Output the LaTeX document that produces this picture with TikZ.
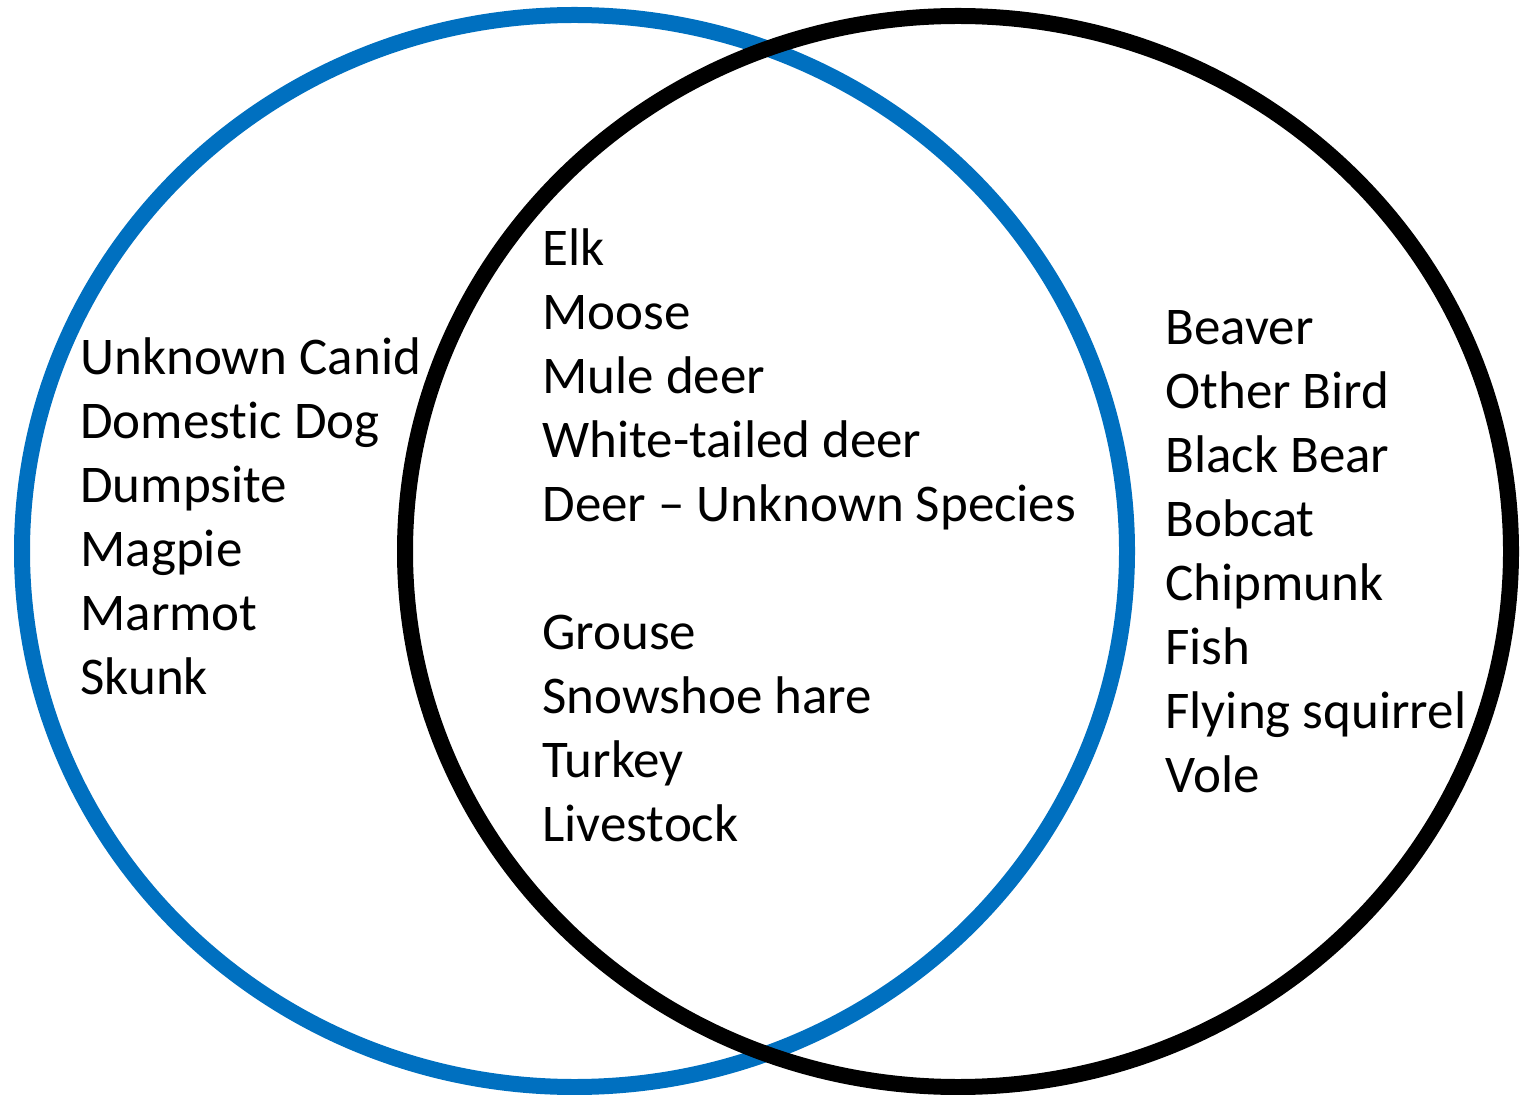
\documentclass[tikz,border=0pt]{standalone}
\usepackage{fontspec}
\setmainfont{Carlito}[Ligatures=NoCommon]
\usepackage{tikz}
\usetikzlibrary{positioning}
\definecolor{ringblue}{RGB}{0,112,192}

\begin{document}
\begin{tikzpicture}[x=0.5pt,y=-0.5pt,
    ring/.style={line width=8pt},
    species/.style={align=left,inner sep=0pt,anchor=base west,
      font=\fontsize{26.5}{32}\selectfont}]
    \useasboundingbox (0,0) rectangle (1529,1095);

    % the two sets
    \draw[ring,ringblue] (574.5,551) ellipse [x radius=552.5,y radius=536];
    \draw[ring,black] (958,551.5) ellipse [x radius=553,y radius=535.5];

    % lists, placed by the baseline of their last line
    \node[species] (leftonly) at (80,694) {Unknown Canid\\Domestic Dog\\Dumpsite\\Magpie\\Marmot\\Skunk};
    \node[species] (both) at (542,841) {Elk\\Moose\\Mule deer\\White-tailed deer\\Deer -- Unknown Species\\[32pt]Grouse\\Snowshoe hare\\Turkey\\Livestock};
    \node[species] (rightonly) at (1165,792) {Beaver\\Other Bird\\Black Bear\\Bobcat\\Chipmunk\\Fish\\Flying squirrel\\Vole};

  \end{tikzpicture}
\end{document}
